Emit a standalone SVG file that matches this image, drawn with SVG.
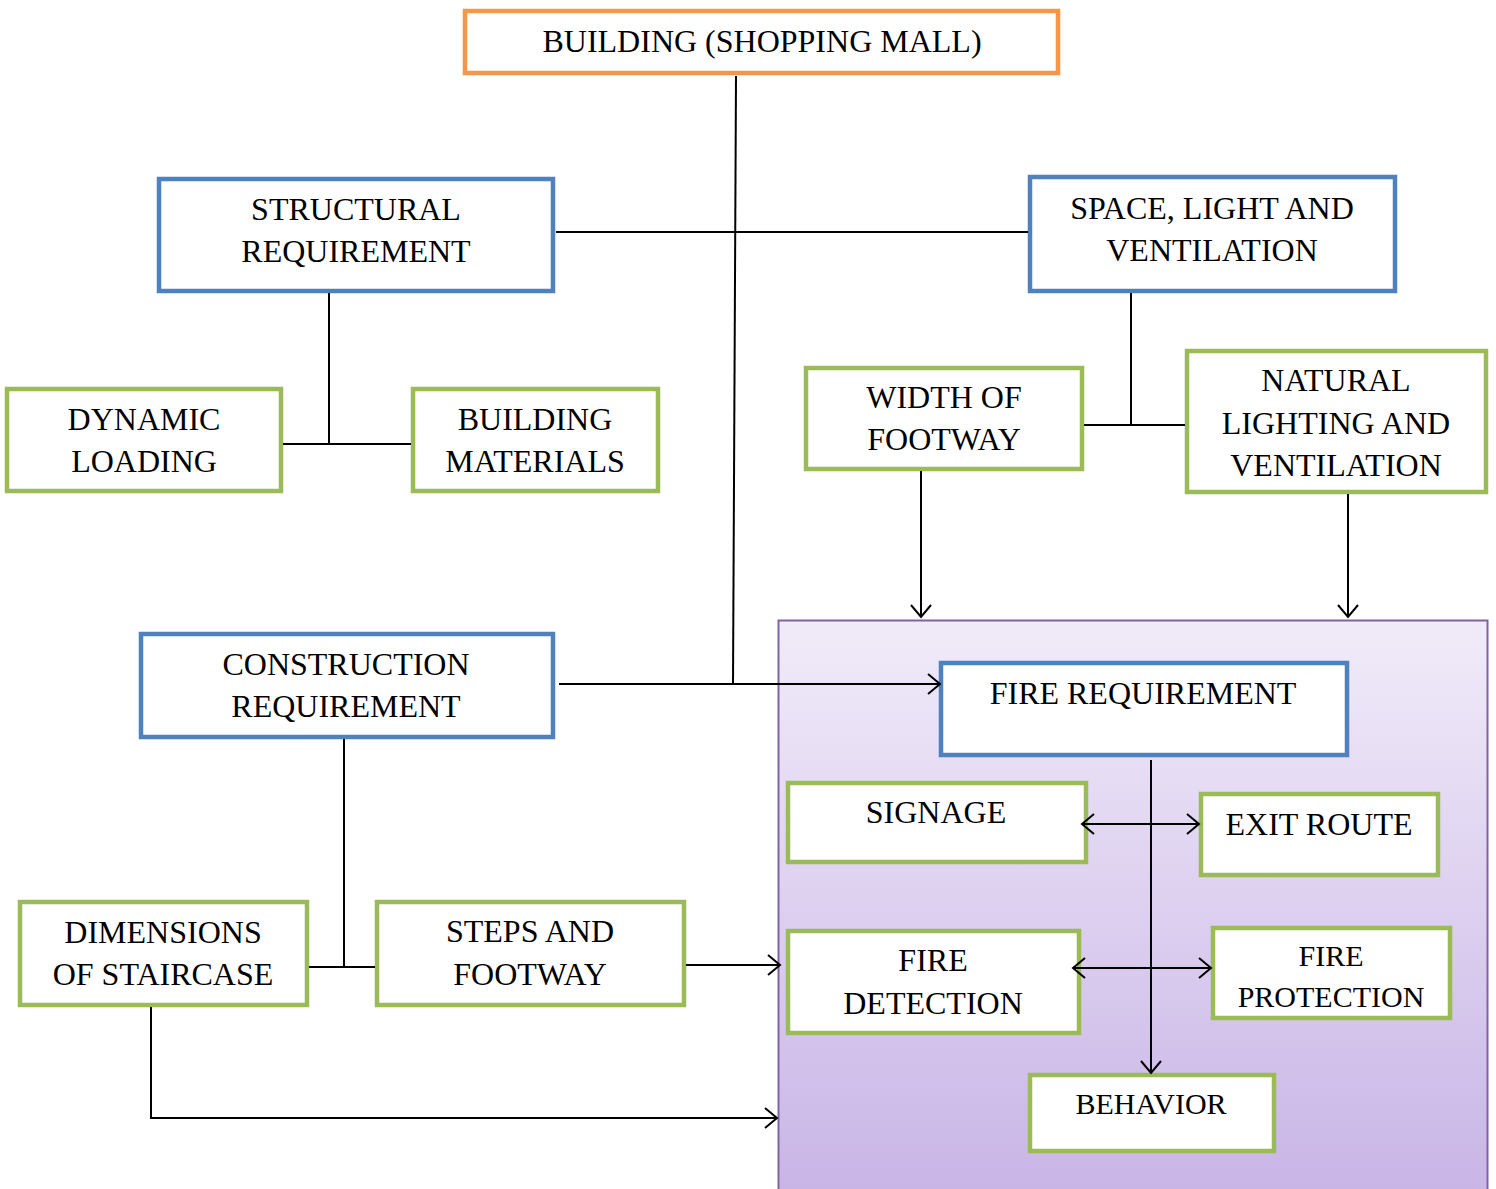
<svg xmlns="http://www.w3.org/2000/svg" width="1496" height="1189" viewBox="0 0 1496 1189">
<defs>
<linearGradient id="pg" x1="0" y1="0" x2="0" y2="1">
<stop offset="0" stop-color="#F1EBF9"/>
<stop offset="1" stop-color="#C8B4E6"/>
</linearGradient>
<marker id="ah" markerUnits="userSpaceOnUse" markerWidth="24" markerHeight="24" refX="13" refY="11" orient="auto-start-reverse" viewBox="0 0 24 24">
<path d="M1,1 L13,11 L1,21" fill="none" stroke="#000" stroke-width="2"/>
</marker>
</defs>
<style>
.box{fill:#fff;stroke-width:4.5}
.o{stroke:#F79646}
.b{stroke:#4F81BD}
.g{stroke:#9BBB59}
text{font-family:"Liberation Serif","Times New Roman",serif;font-size:32px;fill:#000;text-anchor:middle}
.s{font-size:30px}
.c line,.c polyline{stroke:#000;stroke-width:2;fill:none}
</style>
<rect x="0" y="0" width="1496" height="1189" fill="#fff"/>
<g id="fire-zone">
<rect x="778.5" y="620.5" width="709" height="580" fill="url(#pg)" stroke="#8064A2" stroke-width="2"/>
</g>
<g id="building">
<rect class="box o" x="465" y="11" width="593" height="62"/>
<text x="762" y="52">BUILDING (SHOPPING MALL)</text>
</g>
<g id="structural">
<rect class="box b" x="159" y="179" width="394" height="112"/>
<text x="356" y="220">STRUCTURAL</text>
<text x="356" y="262">REQUIREMENT</text>
</g>
<g id="space">
<rect class="box b" x="1030" y="177" width="365" height="114"/>
<text x="1212" y="219">SPACE, LIGHT AND</text>
<text x="1212" y="261">VENTILATION</text>
</g>
<g id="dynamic">
<rect class="box g" x="7" y="389" width="274" height="102"/>
<text x="144" y="430">DYNAMIC</text>
<text x="144" y="472">LOADING</text>
</g>
<g id="materials">
<rect class="box g" x="413" y="389" width="245" height="102"/>
<text x="535" y="430">BUILDING</text>
<text x="535" y="472">MATERIALS</text>
</g>
<g id="footway-width">
<rect class="box g" x="806" y="368" width="276" height="101"/>
<text x="944" y="408">WIDTH OF</text>
<text x="944" y="450">FOOTWAY</text>
</g>
<g id="natural">
<rect class="box g" x="1187" y="351" width="299" height="141"/>
<text x="1336" y="391">NATURAL</text>
<text x="1336" y="434">LIGHTING AND</text>
<text x="1336" y="476">VENTILATION</text>
</g>
<g id="construction">
<rect class="box b" x="141" y="634" width="412" height="103"/>
<text x="346" y="675">CONSTRUCTION</text>
<text x="346" y="717">REQUIREMENT</text>
</g>
<g id="fire-requirement">
<rect class="box b" x="941" y="663" width="406" height="92"/>
<text x="1143" y="704">FIRE REQUIREMENT</text>
</g>
<g id="signage">
<rect class="box g" x="788" y="783" width="298" height="79"/>
<text x="936" y="823">SIGNAGE</text>
</g>
<g id="exit-route">
<rect class="box g" x="1201" y="794" width="237" height="81"/>
<text x="1319" y="835">EXIT ROUTE</text>
</g>
<g id="fire-detection">
<rect class="box g" x="788" y="931" width="291" height="102"/>
<text x="933" y="971">FIRE</text>
<text x="933" y="1014">DETECTION</text>
</g>
<g id="fire-protection">
<rect class="box g" x="1213" y="928" width="237" height="90"/>
<text class="s" x="1331" y="966">FIRE</text>
<text class="s" x="1331" y="1007">PROTECTION</text>
</g>
<g id="behavior">
<rect class="box g" x="1030" y="1075" width="244" height="76"/>
<text class="s" x="1151" y="1114">BEHAVIOR</text>
</g>
<g id="staircase">
<rect class="box g" x="20" y="902" width="287" height="103"/>
<text x="163" y="943">DIMENSIONS</text>
<text x="163" y="985">OF STAIRCASE</text>
</g>
<g id="steps">
<rect class="box g" x="377" y="902" width="307" height="103"/>
<text x="530" y="942">STEPS AND</text>
<text x="530" y="985">FOOTWAY</text>
</g>
<g class="c" id="connectors">
<line x1="736" y1="76" x2="733" y2="684"/>
<line x1="556" y1="232" x2="1028" y2="232"/>
<line x1="329" y1="293" x2="329" y2="444"/>
<line x1="283" y1="444" x2="411" y2="444"/>
<line x1="1131" y1="293" x2="1131" y2="425"/>
<line x1="1084" y1="425" x2="1185" y2="425"/>
<line x1="921" y1="471" x2="921" y2="617" marker-end="url(#ah)"/>
<line x1="1348" y1="494" x2="1348" y2="617" marker-end="url(#ah)"/>
<line x1="559" y1="684" x2="940" y2="684" marker-end="url(#ah)"/>
<line x1="1151" y1="760" x2="1151" y2="1073" marker-end="url(#ah)"/>
<line x1="1082" y1="824" x2="1199" y2="824" marker-start="url(#ah)" marker-end="url(#ah)"/>
<line x1="1073" y1="968" x2="1211" y2="968" marker-start="url(#ah)" marker-end="url(#ah)"/>
<line x1="344" y1="739" x2="344" y2="967"/>
<line x1="309" y1="967" x2="375" y2="967"/>
<line x1="686" y1="965" x2="780" y2="965" marker-end="url(#ah)"/>
<polyline points="151,1007 151,1118 777,1118" marker-end="url(#ah)"/>
</g>
</svg>
